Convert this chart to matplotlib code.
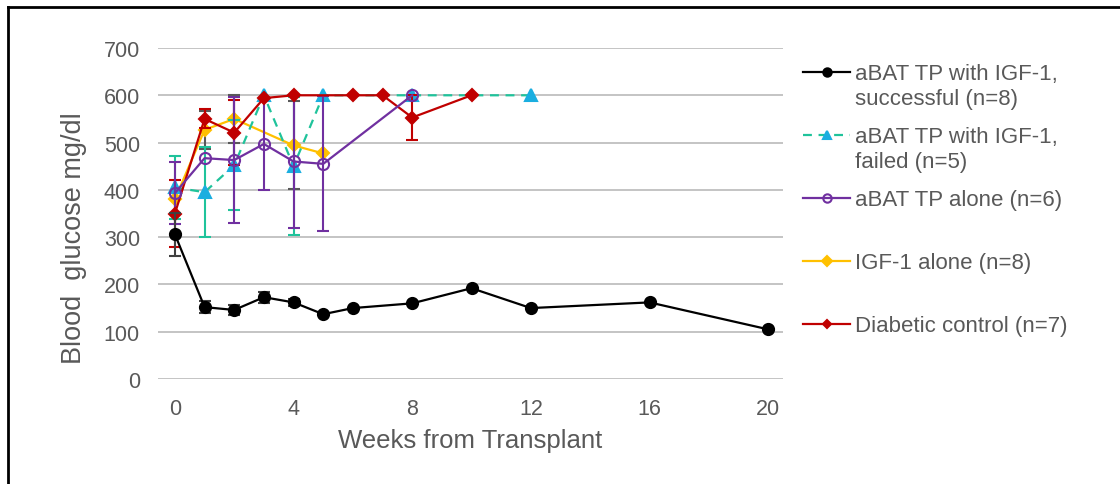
import matplotlib
matplotlib.use("Agg")
import matplotlib.pyplot as plt
from matplotlib.lines import Line2D

plt.rcParams['font.family'] = ['Liberation Sans', 'DejaVu Sans']

# ---- data ----
succ_weeks = [0, 1, 2, 3, 4, 5, 6, 8, 10, 12, 16, 20]
succ_vals = [306, 152, 146, 173, 162, 137, 150, 160, 192, 150, 162, 105]
succ_err = [46, 12, 11, 12, 8, 0, 0, 0, 0, 0, 0, 0]

fail_weeks = [0, 1, 2, 3, 4, 5, 8, 12]
fail_vals = [405, 395, 452, 600, 450, 600, 600, 600]
fail_err = [67, 95, 95, 0, 146, 0, 0, 0]

alone_weeks = [0, 1, 2, 3, 4, 5, 8]
alone_vals = [393, 467, 463, 497, 460, 455, 600]
alone_err = [65, 0, 133, 98, 140, 143, 0]

igf_weeks = [0, 1, 2, 4, 5]
igf_vals = [380, 527, 550, 494, 477]
igf_err = [0, 40, 50, 93, 0]

ctrl_weeks = [0, 1, 2, 3, 4, 6, 7, 8, 10]
ctrl_vals = [350, 550, 521, 594, 600, 600, 600, 553, 600]
ctrl_err = [70, 20, 68, 0, 0, 0, 0, 47, 0]

labels = ["aBAT TP with IGF-1,\nsuccessful (n=8)",
          "aBAT TP with IGF-1,\nfailed (n=5)",
          "aBAT TP alone (n=6)",
          "IGF-1 alone (n=8)",
          "Diabetic control (n=7)"]
xticks = [0, 4, 8, 12, 16, 20]
yticks = [0, 100, 200, 300, 400, 500, 600, 700]

TXT = "#595959"
W, H = 1120, 485
fig = plt.figure(figsize=(11.2, 4.85), dpi=100)
ax = fig.add_axes([158 / W, 1 - 380 / H, (783 - 158) / W, (380 - 49) / H])

styles = [
    dict(color="#000000", ls="-", marker="o", ms=8, mfc="#000000", mec="#000000", ecol="#404040"),
    dict(color="#1FC39B", ls=(0, (4, 3)), marker="^", ms=8, mfc="#1AAEE0", mec="#1AAEE0", ecol="#1FC39B"),
    dict(color="#7030A0", ls="-", marker="o", ms=8, mfc="none", mec="#7030A0", ecol="#7030A0"),
    dict(color="#FFC000", ls="-", marker="D", ms=6.5, mfc="#FFC000", mec="#FFC000", ecol="#595959"),
    dict(color="#C00000", ls="-", marker="D", ms=6, mfc="#C00000", mec="#C00000", ecol="#C00000"),
]
series = [
    (succ_weeks, succ_vals, succ_err),
    (fail_weeks, fail_vals, fail_err),
    (alone_weeks, alone_vals, alone_err),
    (igf_weeks, igf_vals, igf_err),
    (ctrl_weeks, ctrl_vals, ctrl_err),
]
zorders = [6, 4, 5, 3, 4.5]
for (w, v, e), st, z in zip(series, styles, zorders):
    ew = [x for x, err in zip(w, e) if err > 0]
    ev = [y for y, err in zip(v, e) if err > 0]
    ee = [err for err in e if err > 0]
    ax.errorbar(ew, ev, yerr=ee, fmt="none", ecolor=st["ecol"], elinewidth=1.5,
                capsize=4.5, capthick=1.5, zorder=z - 0.5)
    ax.plot(w, v, color=st["color"], ls=st["ls"], lw=1.6, marker=st["marker"],
            ms=st["ms"], mfc=st["mfc"], mec=st["mec"], mew=1.5, zorder=z)

ax.set_xlim(-0.57, 20.5)
ax.set_ylim(0, 700)
ax.set_xticks(xticks)
ax.set_yticks(yticks)
ax.grid(axis="y", color="#BFBFBF", lw=1.3)
ax.set_axisbelow(True)
for s in ax.spines.values():
    s.set_visible(False)
ax.tick_params(length=0, labelsize=15.5, colors=TXT)
ax.tick_params(axis="x", pad=14)
ax.tick_params(axis="y", pad=13)
ax.set_xlabel("Weeks from Transplant", fontsize=18.5, color=TXT, labelpad=6)
ax.set_ylabel("Blood  glucose mg/dl", fontsize=19.5, color=TXT)
ax.yaxis.set_label_coords(-0.113, 0.43)

# legend drawn in figure pixel coordinates
marker_ys = [73, 136, 199, 262, 325]
for st, lab, my in zip(styles, labels, marker_ys):
    y = 1 - my / H
    ln = Line2D([803 / W, 850 / W], [y, y], transform=fig.transFigure,
                color=st["color"], ls=st["ls"], lw=1.6)
    mk = Line2D([826.5 / W], [y], transform=fig.transFigure, marker=st["marker"],
                ms=st["ms"] * 0.75, mfc=st["mfc"], mec=st["mec"], mew=1.5, ls="none")
    fig.add_artist(ln)
    fig.add_artist(mk)
    fig.text(855 / W, 1 - (my - 9) / H, lab, fontsize=16, color=TXT,
             va="top", ha="left", linespacing=1.22)

# frame border (top and left)
fig.add_artist(Line2D([8 / W, 8 / W], [0, 1 - 8 / H], transform=fig.transFigure, color="black", lw=2))
fig.add_artist(Line2D([8 / W, 1], [1 - 8 / H, 1 - 8 / H], transform=fig.transFigure, color="black", lw=2))

fig.savefig("out.png", dpi=100)
